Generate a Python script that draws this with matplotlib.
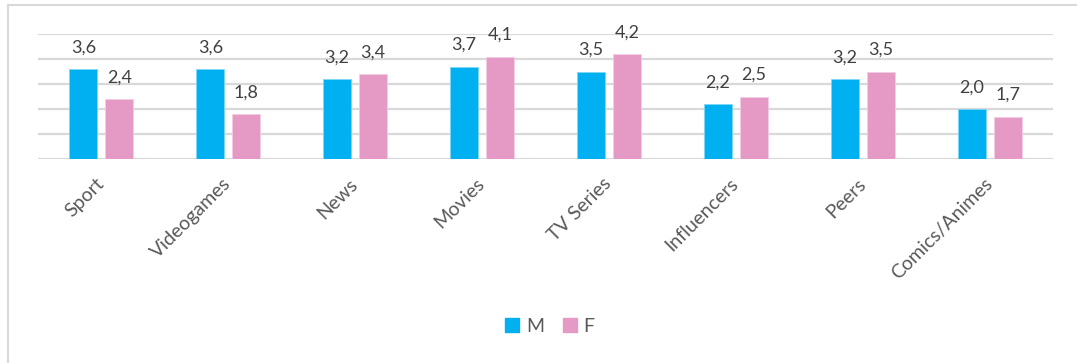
import matplotlib.pyplot as plt
import numpy as np
from matplotlib.lines import Line2D
from matplotlib.patches import Patch

categories = ['Sport', 'Videogames', 'News', 'Movies', 'TV Series',
              'Influencers', 'Peers', 'Comics/Animes']
male = [3.6, 3.6, 3.2, 3.7, 3.5, 2.2, 3.2, 2.0]
female = [2.4, 1.8, 3.4, 4.1, 4.2, 2.5, 3.5, 1.7]

BLUE = '#00B0F0'
PINK = '#E59AC6'
GRID = '#D9D9D9'

plt.rcParams['font.family'] = ['Lato', 'DejaVu Sans']

W, H = 1077, 363
fig = plt.figure(figsize=(W / 100, H / 100), dpi=100)
ax = fig.add_axes([38 / W, (H - 159) / H, (1053 - 38) / W, (159 - 34) / H])

x = np.arange(len(categories))
width = 0.22
offset = 0.142

bars_m = ax.bar(x - offset, male, width, color=BLUE, edgecolor='#7FD7F7', linewidth=0.6, zorder=3)
bars_f = ax.bar(x + offset, female, width, color=PINK, edgecolor='#F2CCE2', linewidth=0.6, zorder=3)

for bars, vals in ((bars_m, male), (bars_f, female)):
    for b, v in zip(bars, vals):
        ax.annotate(f'{v:.1f}'.replace('.', ','),
                    (b.get_x() + b.get_width() / 2, v),
                    xytext=(0, 12), textcoords='offset points',
                    ha='center', va='baseline', fontsize=13,
                    color='#404040', annotation_clip=False)

ax.set_xlim(-0.5, len(categories) - 0.5)
ax.set_ylim(0, 5)
ax.set_yticks(range(6))
ax.yaxis.grid(True, color=GRID, linewidth=1.6, zorder=0)
ax.tick_params(axis='y', length=0, labelleft=False)
ax.tick_params(axis='x', length=0, pad=16)
ax.set_xticks(x)
ax.set_xticklabels(categories, rotation=45, ha='right', va='center',
                   rotation_mode='anchor', fontsize=14, color='#595959')
for s in ax.spines.values():
    s.set_visible(False)

# legend below the bars
handles = [Patch(color=BLUE, label='M'), Patch(color=PINK, label='F')]
fig.legend(handles=handles, loc='center', bbox_to_anchor=(550 / W, 1 - 326 / H),
           ncol=2, frameon=False, fontsize=14, handlelength=0.7, handleheight=0.7,
           handletextpad=0.35, columnspacing=1.0, labelcolor='#595959')

# chart frame (top and left edges)
fig.add_artist(Line2D([8 / W, 1.0], [1 - 5 / H, 1 - 5 / H], color=GRID, linewidth=1.5))
fig.add_artist(Line2D([8 / W, 8 / W], [0.0, 1 - 5 / H], color=GRID, linewidth=1.5))

fig.savefig('out.png', dpi=100)
